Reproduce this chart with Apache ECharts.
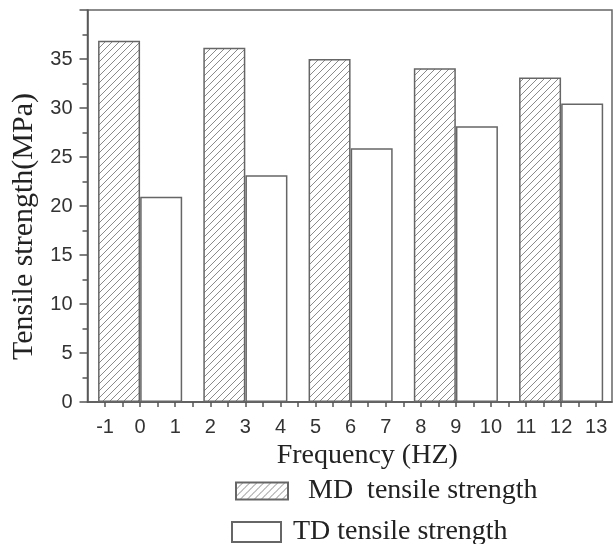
<!DOCTYPE html>
<html>
<head>
<meta charset="utf-8">
<title>Tensile strength vs frequency</title>
<script src="https://cdn.jsdelivr.net/npm/echarts@6/dist/echarts.min.js"></script>
<style>
  html, body { margin: 0; padding: 0; background: #fff; }
  #chart { width: 613px; height: 544px; }
</style>
</head>
<body>
<div id="chart"></div>
<script>
// frequency groups (HZ) and tensile strength values (MPa)
const frequencies = [0, 3, 6, 9, 12]
const mdStrength = [36.85, 36.15, 35.0, 34.05, 33.1]
const tdStrength = [20.95, 23.15, 25.9, 28.15, 30.45]
const seriesNames = ['MD tensile strength', 'TD tensile strength']

// MD bar sits left of the group value, TD bar right of it
const barOffset = 0.6

// diagonal hatch for the MD bars
function hatchPattern() {
  const c = document.createElement('canvas')
  c.width = 7
  c.height = 7
  const ctx = c.getContext('2d')
  ctx.fillStyle = '#fff'
  ctx.fillRect(0, 0, 7, 7)
  ctx.strokeStyle = '#8a8a8a'
  ctx.lineWidth = 1
  ;[0, 7, 14].forEach((k) => {
    ctx.beginPath()
    ctx.moveTo(-1, k + 1)
    ctx.lineTo(k + 1, -1)
    ctx.stroke()
  })
  return c
}

const serif = 'Liberation Serif'
const sans = 'Liberation Sans'

const chart = echarts.init(document.getElementById('chart'))
chart.setOption({
  animation: false,
  grid: {
    left: 87.5,
    right: 1,
    top: 10,
    bottom: 142,
    show: true,
    borderColor: '#666',
    borderWidth: 1.5
  },
  legend: [
    {
      data: [seriesNames[0]],
      left: 235,
      top: 477,
      padding: 0,
      icon: 'rect',
      itemWidth: 52,
      itemHeight: 17,
      formatter: () => 'MD  tensile strength',
      textStyle: { fontFamily: serif, fontSize: 28, color: '#222', padding: [0, 0, 0, 15] }
    },
    {
      data: [seriesNames[1]],
      left: 231,
      top: 518,
      padding: 0,
      icon: 'rect',
      itemWidth: 49,
      itemHeight: 20,
      textStyle: { fontFamily: serif, fontSize: 28, color: '#222', padding: [0, 0, 0, 7] }
    }
  ],
  xAxis: {
    type: 'value',
    min: -1.5,
    max: 13.45,
    interval: 0.5,
    name: 'Frequency (HZ)',
    nameLocation: 'middle',
    nameGap: 39,
    nameTextStyle: { fontFamily: serif, fontSize: 28, color: '#222', padding: [0, 0, 0, 35] },
    axisLine: { onZero: false, lineStyle: { color: '#555', width: 1.5 } },
    axisTick: { length: 5, lineStyle: { color: '#555', width: 1.5 } },
    axisLabel: {
      fontFamily: sans,
      fontSize: 20,
      color: '#333',
      margin: 15,
      showMinLabel: false,
      showMaxLabel: false,
      formatter: (v) => (Number.isInteger(v) ? String(v) : '')
    },
    splitLine: { show: false }
  },
  yAxis: {
    type: 'value',
    min: 0,
    max: 40,
    interval: 5,
    name: 'Tensile strength(MPa)',
    nameLocation: 'middle',
    nameGap: 47,
    nameTextStyle: { fontFamily: serif, fontSize: 30, color: '#222', padding: [0, 41, 0, 0] },
    axisLine: { show: true, onZero: false, lineStyle: { color: '#555', width: 1.5 } },
    axisTick: { show: true, length: 8, lineStyle: { color: '#555', width: 1.5 } },
    minorTick: { show: true, splitNumber: 2, length: 5, lineStyle: { color: '#555', width: 1.5 } },
    axisLabel: {
      fontFamily: sans,
      fontSize: 20,
      color: '#333',
      margin: 15,
      formatter: (v) => (v >= 40 ? '' : String(v))
    },
    splitLine: { show: false }
  },
  series: [
    {
      name: seriesNames[0],
      type: 'bar',
      barWidth: 42,
      barGap: '-100%',
      itemStyle: {
        color: { image: hatchPattern(), repeat: 'repeat' },
        borderColor: '#666',
        borderWidth: 1.5
      },
      data: frequencies.map((f, i) => [f - barOffset, mdStrength[i]])
    },
    {
      name: seriesNames[1],
      type: 'bar',
      barWidth: 42,
      barGap: '-100%',
      itemStyle: {
        color: '#fff',
        borderColor: '#666',
        borderWidth: 1.5
      },
      data: frequencies.map((f, i) => [f + barOffset, tdStrength[i]])
    }
  ]
})
</script>
</body>
</html>
